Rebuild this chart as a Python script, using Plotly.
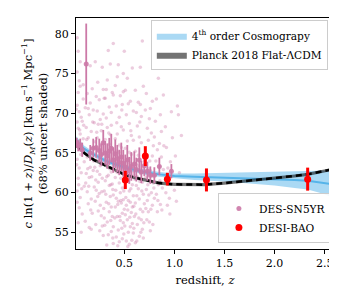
import plotly.graph_objects as go

# ---- data ----
# DES-SN5YR individual supernovae (faint cloud)
sn_z = [0.03,0.04,0.03,0.05,0.04,0.06,0.03,0.05,0.07,0.03,0.04,0.06,0.08,0.03,0.05,0.04,0.07,0.03,0.06,0.05,0.08,0.09,0.09,0.10,0.10,0.04,0.07,0.09,
        0.11,0.12,0.13,0.14,0.15,0.16,0.17,0.18,0.19,0.12,0.13,0.14,0.15,0.16,0.17,0.18,0.19,0.11,0.15,0.20,0.20,0.13,0.18,0.16,
        0.21,0.22,0.23,0.24,0.25,0.26,0.27,0.28,0.29,0.21,0.22,0.23,0.24,0.25,0.26,0.27,0.28,0.29,0.22,0.24,0.26,0.28,0.23,0.25,0.27,0.29,0.21,0.30,0.30,0.30,
        0.31,0.32,0.33,0.34,0.35,0.36,0.37,0.38,0.39,0.39,0.31,0.32,0.33,0.34,0.35,0.36,0.37,0.38,0.39,0.31,0.32,0.33,0.34,0.35,0.36,0.37,0.38,0.39,0.33,0.36,0.38,0.35,0.37,0.39,0.32,0.37,
        0.41,0.42,0.43,0.44,0.45,0.46,0.47,0.48,0.49,0.49,0.41,0.42,0.43,0.44,0.45,0.46,0.47,0.48,0.49,0.41,0.42,0.43,0.44,0.45,0.46,0.47,0.48,0.49,0.41,0.43,0.45,0.47,0.49,0.42,0.44,0.46,0.48,0.50,0.50,0.50,
        0.51,0.52,0.53,0.54,0.55,0.56,0.57,0.58,0.59,0.51,0.52,0.53,0.54,0.55,0.56,0.57,0.58,0.59,0.51,0.52,0.53,0.54,0.55,0.56,0.57,0.58,0.59,0.51,0.53,0.55,0.57,0.59,0.52,0.54,0.56,0.58,0.60,0.60,
        0.61,0.62,0.63,0.64,0.65,0.66,0.66,0.67,0.68,0.69,0.61,0.62,0.63,0.64,0.65,0.66,0.67,0.68,0.69,0.61,0.63,0.65,0.62,0.64,0.66,0.68,0.69,0.67,0.61,0.70,0.70,
        0.71,0.72,0.73,0.74,0.75,0.76,0.77,0.78,0.79,0.71,0.72,0.73,0.74,0.75,0.76,0.77,0.78,0.79,0.72,0.74,0.76,0.78,0.80,0.80,
        0.81,0.82,0.84,0.85,0.86,0.87,0.89,0.81,0.82,0.83,0.84,0.85,0.86,0.88,0.89,0.83,0.87,
        0.91,0.92,0.94,0.95,0.96,0.98,1.00,1.01,1.03,1.04,1.05,1.07,0.93,0.97,1.02,
        0.02,0.025,0.035,0.045,0.055,0.065,0.075,0.085,0.095,0.02,0.03,0.06,
        0.105,0.115,0.125,0.135,0.145,0.155,0.165,0.175,0.185,0.195,0.14,0.17,
        0.205,0.215,0.225,0.235,0.245,0.255,0.265,0.275,0.285,0.295,0.215,0.255,0.275,0.235,
        0.305,0.315,0.325,0.335,0.345,0.355,0.365,0.375,0.385,0.395,0.305,0.345,0.385,0.325,0.365,
        0.405,0.415,0.425,0.435,0.445,0.455,0.465,0.475,0.485,0.495,0.405,0.435,0.465,0.495,0.425,0.475,
        0.505,0.515,0.525,0.535,0.545,0.555,0.565,0.575,0.585,0.595,0.505,0.535,0.565,0.595,0.545,
        0.605,0.615,0.625,0.635,0.645,0.655,0.665,0.675,0.685,0.695,0.625,0.655,0.685,
        0.705,0.715,0.725,0.735,0.745,0.755,0.765,0.775,0.785,0.795,
        0.815,0.835,0.855,0.875,0.895,0.915,0.935,0.955]
sn_v = [79.5,77.8,75.2,74.1,72.6,73.4,71.0,70.2,69.5,68.9,68.1,67.4,69.0,64.2,63.1,61.8,62.5,60.2,59.4,58.1,57.3,71.8,66.8,63.9,60.8,56.2,55.0,73.6,
        70.7,68.2,72.5,66.9,69.8,71.3,67.7,73.1,70.4,62.4,60.1,58.6,61.9,63.2,59.2,57.4,62.8,56.4,55.6,60.7,68.8,64.5,65.6,76.0,
        76.5,72.1,70.3,68.6,71.7,69.2,67.8,75.8,73.0,66.4,64.1,62.7,61.3,59.9,58.4,57.1,55.8,54.6,60.3,57.7,63.4,61.8,66.9,65.3,64.6,69.9,58.9,71.9,60.2,56.8,
        71.9,69.4,74.2,77.9,70.8,76.2,68.5,72.6,78.8,72.3,66.7,64.9,63.6,62.2,60.9,59.5,58.2,57.0,55.7,61.5,58.8,56.3,54.7,66.1,63.9,62.6,61.1,59.7,68.2,67.3,65.5,57.6,55.1,53.6,73.0,70.1,
        73.5,70.9,74.6,76.1,69.5,72.2,68.3,71.1,75.0,72.7,66.8,65.2,63.8,62.5,61.2,60.0,58.7,57.4,56.2,61.9,59.3,57.0,55.3,53.8,64.4,63.0,60.6,59.1,58.2,67.4,66.0,65.7,67.9,54.4,58.9,56.5,54.2,77.8,62.1,57.9,
        72.9,69.8,74.4,71.2,68.7,71.5,67.2,75.7,70.3,65.6,64.1,62.9,61.4,60.2,58.8,57.5,56.1,54.9,60.7,58.4,56.6,55.0,53.5,63.7,62.3,61.0,59.6,57.2,66.5,65.1,64.8,66.6,53.9,59.0,55.7,58.2,63.5,57.0,
        72.9,70.1,68.4,71.4,67.0,75.8,71.1,69.6,79.1,73.4,65.2,63.6,62.0,60.5,59.2,57.9,56.6,55.4,54.3,58.7,56.0,54.5,60.9,64.7,62.4,61.3,59.8,66.3,53.7,64.0,58.6,
        70.4,72.5,68.1,66.6,69.3,70.6,67.5,71.5,65.9,61.9,60.4,59.0,57.6,56.3,62.8,60.0,58.4,61.2,64.3,63.0,55.2,64.6,67.0,59.3,
        69.0,71.8,74.4,66.2,69.8,64.5,72.3,62.2,59.8,57.6,61.0,63.3,58.5,60.6,62.9,65.4,67.7,
        68.3,65.7,61.2,59.3,63.9,66.9,60.3,64.6,70.9,69.8,62.5,67.2,58.4,70.2,58.9,
        66.5,63.5,65.8,61.0,67.9,64.8,60.5,65.2,68.5,70.5,58.8,76.5,
        65.4,61.2,66.7,63.0,60.8,65.0,57.8,62.0,68.9,64.0,70.6,55.4,
        63.2,61.6,67.6,59.5,64.0,62.3,66.0,60.1,63.9,58.0,56.0,55.2,68.6,73.9,
        64.2,59.8,62.0,65.0,58.6,63.0,56.5,64.2,60.4,62.9,55.9,67.5,54.3,53.4,61.0,
        63.7,60.3,62.6,58.5,65.1,57.0,61.8,55.5,63.4,60.2,56.8,53.3,59.0,54.8,68.8,70.4,
        63.0,59.4,61.6,57.8,64.3,56.9,60.5,54.0,62.7,58.3,55.8,53.2,67.8,55.5,62.0,
        61.7,57.3,59.6,63.4,56.8,61.4,55.0,60.2,63.0,56.2,53.9,68.9,57.6,
        62.5,58.0,56.6,61.0,59.7,64.0,57.9,62.1,56.0,60.6,
        64.0,59.0,61.5,57.8,65.9,60.0,63.1,57.3]

# DES-SN5YR binned points
snb_z = [0.025,0.04,0.06,0.08,0.12,0.16,0.19,0.22,0.25,0.27,0.29,0.31,0.33,0.35,0.37,0.39,0.41,0.43,0.45,0.47,0.49,0.51,0.53,0.55,0.57,0.60,0.62,0.65,0.67,0.70,0.73,0.76,0.80,0.85,0.97]
snb_v = [66.3,65.9,66.0,65.4,76.2,65.0,65.6,65.7,65.3,64.8,66.3,65.0,64.6,65.2,65.6,64.1,64.9,64.3,63.8,64.5,63.7,63.2,64.1,62.8,63.3,63.6,62.9,64.1,62.6,63.4,62.7,62.2,62.2,63.3,62.7]
snb_e = [0.6,0.7,0.8,0.9,5.1,1.0,1.2,1.3,1.5,1.4,1.6,1.5,1.6,1.7,1.8,1.6,1.8,1.7,1.6,1.8,1.7,1.6,1.9,1.7,1.8,1.6,1.5,1.6,1.4,1.3,1.2,1.1,1.0,1.1,0.9]

# DESI-BAO
bao_z = [0.51,0.71,0.93,1.32,2.33]
bao_v = [61.6,64.6,61.7,61.6,61.7]
bao_e = [1.15,1.25,0.8,1.45,1.45]

# 4th order cosmography curve and 68% band
cg_z = [0.02,0.1,0.2,0.3,0.4,0.5,0.6,0.7,0.85,1.0,1.2,1.5,1.8,2.0,2.2,2.33,2.45,2.6]
cg_v = [66.6,65.5,64.8,64.1,63.6,63.2,62.9,62.6,62.3,62.1,62.0,61.9,61.8,61.7,61.6,61.5,61.3,61.0]
cg_lo = [66.1,65.1,64.5,63.8,63.3,62.9,62.6,62.3,62.0,61.8,61.6,61.4,61.1,60.9,60.6,60.4,60.0,59.3]
cg_hi = [67.1,65.9,65.1,64.4,63.9,63.5,63.2,62.9,62.6,62.4,62.4,62.5,62.6,62.6,62.7,62.75,62.75,62.8]

# Planck 2018 flat LCDM
lc_z = [0.02,0.1,0.2,0.3,0.4,0.5,0.6,0.7,0.85,1.0,1.15,1.3,1.5,1.75,2.0,2.2,2.33,2.45,2.6]
lc_v = [66.0,65.0,64.1,63.5,62.9,62.3,61.9,61.6,61.2,61.05,61.0,61.0,61.2,61.5,61.8,62.1,62.3,62.6,63.0]
lc_w = [0.25,0.22,0.2,0.2,0.2,0.2,0.2,0.2,0.2,0.2,0.2,0.2,0.2,0.2,0.2,0.2,0.2,0.2,0.2]

PINK = "#cc79a7"
BLUE = "#56b4e9"
FONT = "DejaVu Serif"

fig = go.Figure()

fig.add_trace(go.Scatter(x=sn_z, y=sn_v, mode="markers", showlegend=False,
                         marker=dict(color=PINK, size=3.5, opacity=0.38, line=dict(width=0)),
                         hoverinfo="skip"))

# cosmography band
fig.add_trace(go.Scatter(x=cg_z, y=cg_lo, mode="lines", line=dict(color=BLUE, width=0),
                         showlegend=False, hoverinfo="skip"))
fig.add_trace(go.Scatter(x=cg_z, y=cg_hi, mode="lines", fill="tonexty",
                         fillcolor="rgba(86,180,233,0.5)", line=dict(color=BLUE, width=0),
                         name="4<sup>th</sup> order Cosmograpy", legend="legend", legendrank=1))
fig.add_trace(go.Scatter(x=cg_z, y=cg_v, mode="lines", line=dict(color=BLUE, width=2),
                         showlegend=False))

# LCDM band
lc_lo = [v - w for v, w in zip(lc_v, lc_w)]
lc_hi = [v + w for v, w in zip(lc_v, lc_w)]
fig.add_trace(go.Scatter(x=lc_z, y=lc_lo, mode="lines", line=dict(color="#000", width=0),
                         showlegend=False, hoverinfo="skip"))
fig.add_trace(go.Scatter(x=lc_z, y=lc_hi, mode="lines", fill="tonexty",
                         fillcolor="rgba(0,0,0,0.55)", line=dict(color="#000", width=0),
                         name="Planck 2018 Flat-ΛCDM", legend="legend", legendrank=2))
fig.add_trace(go.Scatter(x=lc_z, y=lc_v, mode="lines", line=dict(color="black", width=2.5, dash="6px,4px"),
                         showlegend=False))

# binned SN
fig.add_trace(go.Scatter(x=snb_z, y=snb_v, mode="markers", name="DES-SN5YR", legend="legend2",
                         legendrank=1,
                         marker=dict(color=PINK, size=5, opacity=0.9),
                         error_y=dict(type="data", array=snb_e, color=PINK, thickness=1.8, width=0)))

# DESI BAO
fig.add_trace(go.Scatter(x=bao_z, y=bao_v, mode="markers", name="DESI-BAO", legend="legend2",
                         legendrank=2,
                         marker=dict(color="red", size=7),
                         error_y=dict(type="data", array=bao_e, color="red", thickness=3, width=0)))

axis_common = dict(showline=True, linecolor="black", linewidth=1, mirror=True,
                   ticks="outside", ticklen=4, tickcolor="black", showgrid=False, zeroline=False,
                   tickfont=dict(family=FONT, size=11, color="black"))

fig.update_layout(
    width=337, height=290,
    margin=dict(l=68, r=11, t=10, b=49),
    paper_bgcolor="white", plot_bgcolor="white",
    font=dict(family=FONT, size=11, color="black"),
    xaxis=dict(range=[0.018, 2.593], tickvals=[0.5, 1.0, 1.5, 2.0, 2.5],
               ticktext=["0.5", "1.0", "1.5", "2.0", "2.5"],
               title=dict(text="redshift, <i>z</i>", font=dict(family=FONT, size=11.5), standoff=6),
               **axis_common),
    yaxis=dict(range=[52.9, 82.0], tickvals=[55, 60, 65, 70, 75, 80],
               title=dict(text="<i>c</i> ln(1 + <i>z</i>)/<i>D</i><sub><i>M</i></sub>(<i>z</i>) [km s<sup>−1</sup> Mpc<sup>−1</sup>]<br>(68% uncert shaded)",
                          font=dict(family=FONT, size=11.5), standoff=4),
               **axis_common),
    legend=dict(x=0.29, y=0.99, xanchor="left", yanchor="top", traceorder="normal",
                bgcolor="rgba(255,255,255,0.85)", bordercolor="#cccccc", borderwidth=1,
                font=dict(family=FONT, size=10.6), tracegroupgap=0, itemwidth=30),
    legend2=dict(x=0.55, y=0.026, xanchor="left", yanchor="bottom", traceorder="normal",
                 bgcolor="rgba(255,255,255,0.85)", bordercolor="#cccccc", borderwidth=1,
                 font=dict(family=FONT, size=10.6), tracegroupgap=0, itemwidth=30),
)

fig.write_html("out.html")
